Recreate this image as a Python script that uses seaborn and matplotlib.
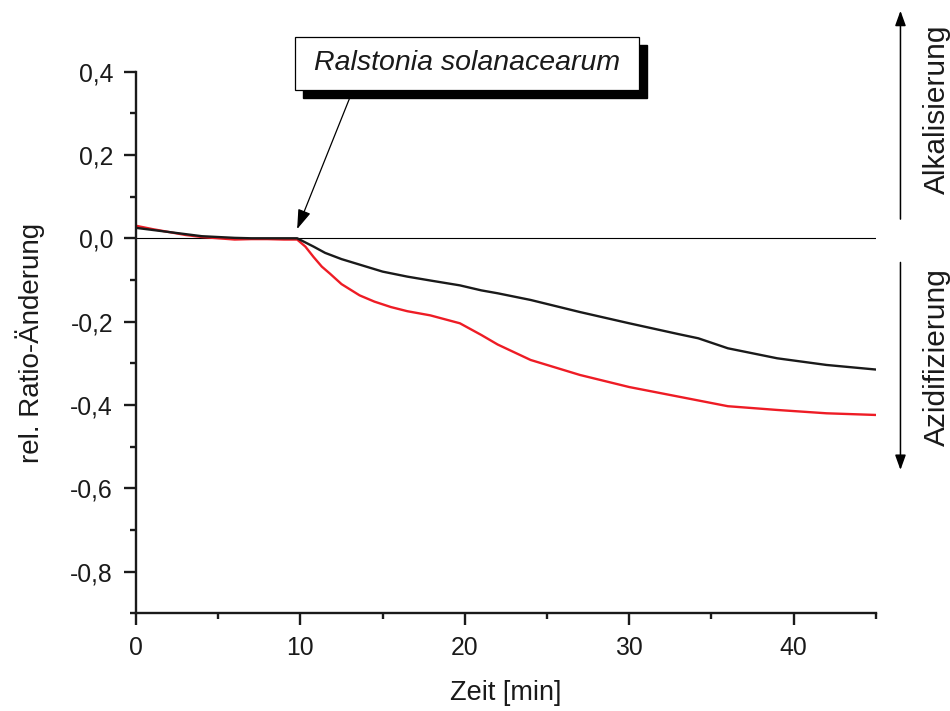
import numpy as np
import pandas as pd
import matplotlib
matplotlib.use("Agg")
import matplotlib.pyplot as plt
from matplotlib.patches import Rectangle
from matplotlib.ticker import MultipleLocator, FuncFormatter
import seaborn as sns

# ---- data ----
t_black = [0, 1, 2, 3, 4, 5, 6, 7, 8, 9, 9.8, 10.3, 10.8, 11.5, 12.5, 13.5, 15,
           16.5, 18, 19.7, 21, 22, 24, 27, 30, 33, 34.2, 36, 39, 42, 45]
v_black = [0.025, 0.02, 0.015, 0.01, 0.005, 0.003, 0.001, 0.0, 0.0, 0.0, 0.0,
           -0.01, -0.02, -0.035, -0.05, -0.062, -0.08, -0.092, -0.102, -0.113,
           -0.125, -0.132, -0.148, -0.177, -0.204, -0.230, -0.240, -0.264,
           -0.288, -0.304, -0.315]
t_red = [0, 1, 2, 3, 4, 5, 6, 7, 8, 9, 9.8, 10.3, 10.8, 11.3, 11.8, 12.5, 13.6,
         14.5, 15.5, 16.5, 17.9, 19.7, 21, 22, 24, 27, 30, 33, 36, 39, 42, 45]
v_red = [0.03, 0.022, 0.015, 0.008, 0.003, 0.0, -0.003, -0.002, -0.002, -0.003,
         -0.003, -0.02, -0.045, -0.068, -0.085, -0.11, -0.137, -0.152, -0.165,
         -0.175, -0.185, -0.204, -0.232, -0.255, -0.292, -0.328, -0.357, -0.38,
         -0.403, -0.412, -0.42, -0.424]
series_names = ["schwarz", "rot"]
series_colors = ["#1a1a1a", "#ee1c25"]
annotation_text = "Ralstonia solanacearum"
x_label = "Zeit [min]"
y_label = "rel. Ratio-Änderung"
right_up = "Alkalisierung"
right_down = "Azidifizierung"

df = pd.concat([
    pd.DataFrame({"t": t_black, "v": v_black, "s": series_names[0]}),
    pd.DataFrame({"t": t_red, "v": v_red, "s": series_names[1]}),
])

sns.set_style("ticks")
plt.rcParams["font.family"] = ["Liberation Sans", "DejaVu Sans"]

fig = plt.figure(figsize=(9.5, 7.11), dpi=100)
ax = fig.add_axes([0.1432, 0.1374, 0.9219 - 0.1432, 0.8993 - 0.1374])

ax.axhline(0, color="black", lw=0.8, zorder=1)
sns.lineplot(data=df, x="t", y="v", hue="s", hue_order=series_names[::-1],
             palette=dict(zip(series_names, series_colors)), lw=1.7,
             legend=False, ax=ax, zorder=2)

ax.set_xlim(0, 45)
ax.set_ylim(-0.9, 0.4)
ax.xaxis.set_major_locator(MultipleLocator(10))
ax.xaxis.set_minor_locator(MultipleLocator(5))
ax.yaxis.set_major_locator(MultipleLocator(0.2))
ax.yaxis.set_minor_locator(MultipleLocator(0.1))
ax.yaxis.set_major_formatter(FuncFormatter(lambda v, p: f"{v:.1f}".replace(".", ",").replace("-0,0", "0,0")))
ax.xaxis.set_major_formatter(FuncFormatter(lambda v, p: f"{v:.0f}"))

for s in ["top", "right"]:
    ax.spines[s].set_visible(False)
for s in ["left", "bottom"]:
    ax.spines[s].set_linewidth(1.7)
    ax.spines[s].set_color("#1a1a1a")
ax.tick_params(which="major", direction="out", length=8.5, width=1.7,
               labelsize=17.8, color="#1a1a1a", labelcolor="#1a1a1a", pad=8)
ax.tick_params(which="minor", direction="out", length=4.3, width=1.7,
               color="#1a1a1a")
ax.set_xlabel(x_label, fontsize=19.5, labelpad=14, color="#1a1a1a")
ax.set_ylabel(y_label, fontsize=20, labelpad=18, color="#1a1a1a")

# annotation box with shadow
dx, dy = 8 / 16.44, 8 / 416.7
x0, x1, y0, y1 = 9.67, 30.6, 0.356, 0.483
ax.add_patch(Rectangle((x0 + dx, y0 - dy), x1 - x0, y1 - y0, facecolor="black",
                       edgecolor="black", clip_on=False, zorder=5))
ax.add_patch(Rectangle((x0, y0), x1 - x0, y1 - y0, facecolor="white",
                       edgecolor="black", lw=0.9, clip_on=False, zorder=6))
ax.text((x0 + x1) / 2, (y0 + y1) / 2, annotation_text, style="italic",
        fontsize=20.5, ha="center", va="center", zorder=7, clip_on=False,
        color="#1a1a1a")
ax.annotate("", xy=(9.8, 0.022), xytext=(13.0, 0.337),
            arrowprops=dict(arrowstyle="-|>,head_length=0.6,head_width=0.2",
                            mutation_scale=20, lw=0.9, color="black",
                            shrinkA=0, shrinkB=0), annotation_clip=False)

# right-side direction arrows
ax.annotate("", xy=(46.5, 0.546), xytext=(46.5, 0.046),
            arrowprops=dict(arrowstyle="-|>,head_length=0.5,head_width=0.18",
                            mutation_scale=18, lw=1.1, color="black",
                            shrinkA=0, shrinkB=0), annotation_clip=False)
ax.annotate("", xy=(46.5, -0.556), xytext=(46.5, -0.058),
            arrowprops=dict(arrowstyle="-|>,head_length=0.5,head_width=0.18",
                            mutation_scale=18, lw=1.1, color="black",
                            shrinkA=0, shrinkB=0), annotation_clip=False)
ax.text(48.7, 0.309, right_up, rotation=90, fontsize=21.5, ha="center",
        va="center", clip_on=False, color="#1a1a1a")
ax.text(48.7, -0.285, right_down, rotation=90, fontsize=21.5, ha="center",
        va="center", clip_on=False, color="#1a1a1a")

fig.savefig("out.png", dpi=100, facecolor="white")
